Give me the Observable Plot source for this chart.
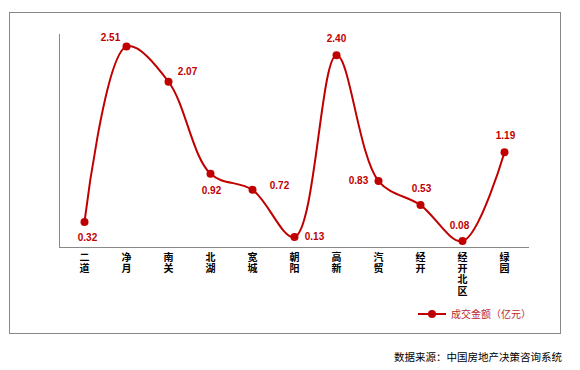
<!DOCTYPE html>
<html>
<head>
<meta charset="utf-8">
<script src="https://cdn.jsdelivr.net/npm/d3@7"></script>
<script src="https://cdn.jsdelivr.net/npm/@observablehq/plot@0.6"></script>
<style>
  html, body { margin: 0; padding: 0; background: #fff; }
  #wrap { position: relative; width: 580px; height: 370px; font-family: "Noto Sans CJK SC", "Noto Sans", sans-serif; }
  #border { position: absolute; left: 9px; top: 12px; width: 552px; height: 322px; border: 1px solid #888; box-sizing: border-box; }
  #chart { position: absolute; left: 0; top: 0; }
  #legend { position: absolute; left: 418px; top: 306px; display: flex; align-items: center; font-size: 10px; color: #C0282D; }
  #source { position: absolute; right: 18px; top: 349px; font-size: 10.5px; color: #000; }
</style>
</head>
<body>
<div id="wrap">
  <div id="border"></div>
  <div id="chart"></div>
  <div id="legend">
    <svg width="30" height="10" style="margin-right:3px"><line x1="0" y1="5" x2="28" y2="5" stroke="#C00000" stroke-width="2"/><circle cx="14" cy="5" r="4" fill="#C00000"/></svg>
    <span>成交金额（亿元）</span>
  </div>
  <div id="source">数据来源：中国房地产决策咨询系统</div>
</div>
<script>
const districts = ["二道", "净月", "南关", "北湖", "宽城", "朝阳", "高新", "汽贸", "经开", "经开北区", "绿园"];
const amounts = [0.32, 2.51, 2.07, 0.92, 0.72, 0.13, 2.40, 0.83, 0.53, 0.08, 1.19];
const labelOffsets = [[3,16],[-16,-9],[19,-10],[1,17],[27,-4],[20,0],[0,-17],[-20,0],[1,-16],[-3,-15],[1,-16]];

const data = districts.map((d, i) => ({district: d, value: amounts[i]}));
const red = "#C00000";

const labelMarks = data.map((d, i) => Plot.text([d], {
  x: "district", y: "value",
  text: v => v.value.toFixed(2),
  dx: labelOffsets[i][0], dy: labelOffsets[i][1],
  fill: red, fontWeight: "bold", fontSize: 10,
  fontFamily: "Liberation Sans, Arial, sans-serif"
}));

// stacked (vertical) category labels: one text mark per character row
const maxChars = d3.max(districts, d => d.length);
const tickCharMarks = d3.range(maxChars).map(k => Plot.text(districts.filter(d => d.length > k), {
  x: d => d, text: d => d[k], frameAnchor: "bottom", dy: 6 + k * 11.3,
  lineAnchor: "top", fontSize: 10, fontWeight: "bold", fill: "#000",
  fontFamily: "Noto Sans CJK SC"
}));

const chart = Plot.plot({
  width: 580,
  height: 334,
  marginLeft: 59,
  marginRight: 52,
  marginTop: 34,
  marginBottom: 87,
  style: {background: "transparent", overflow: "visible"},
  x: {type: "point", domain: districts, padding: 0.5, label: null, axis: null},
  y: {domain: [0, 2.66], axis: null},
  marks: [
    Plot.frame({anchor: "left", stroke: "#888"}),
    Plot.frame({anchor: "bottom", stroke: "#888"}),
    ...tickCharMarks,
    Plot.line(data, {x: "district", y: "value", stroke: red, strokeWidth: 2, curve: "catmull-rom"}),
    Plot.dot(data, {x: "district", y: "value", r: 4, fill: red}),
    ...labelMarks
  ]
});
document.getElementById("chart").appendChild(chart);
</script>
</body>
</html>
